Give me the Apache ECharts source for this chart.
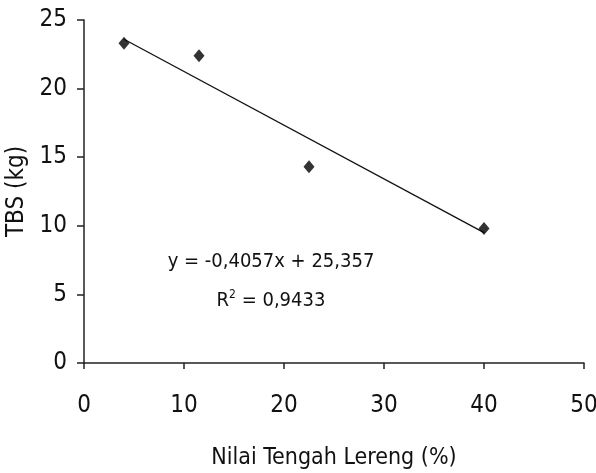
<!DOCTYPE html>
<html>
<head>
<meta charset="utf-8">
<script src="https://cdn.jsdelivr.net/npm/echarts@6/dist/echarts.min.js"></script>
<style>
html,body{margin:0;padding:0;background:#fff;}
#c{width:596px;height:473px;}
</style>
</head>
<body>
<div id="c"></div>
<script>
var slopeX = [4, 11.5, 22.5, 40];
var tbsY = [23.3, 22.4, 14.3, 9.8];
var trendX = [4, 40];
var trendY = [23.6, 9.5];
var xTicks = [0, 10, 20, 30, 40, 50];
var yTicks = [0, 5, 10, 15, 20, 25];
var xTitle = 'Nilai Tengah Lereng (%)';
var yTitle = 'TBS (kg)';
var eqText = 'y = -0,4057x + 25,357';
var r2Value = '0,9433';

var FONT = '"Liberation Sans Narrow", "DejaVu Sans Condensed", Lato, sans-serif';

var chart = echarts.init(document.getElementById('c'), null, {renderer: 'canvas'});

var pts = slopeX.map(function (x, i) { return [x, tbsY[i]]; });
var trend = trendX.map(function (x, i) { return [x, trendY[i]]; });

chart.setOption({
  animation: false,
  backgroundColor: '#fff',
  grid: {left: 84, right: 12, top: 20, bottom: 110, outerBoundsMode: 'none', containLabel: false},
  xAxis: {
    type: 'value', min: xTicks[0], max: xTicks[xTicks.length - 1], interval: 10,
    name: xTitle, nameLocation: 'middle', nameGap: 84,
    nameTextStyle: {fontFamily: FONT, fontSize: 23, color: '#111'},
    axisLine: {lineStyle: {color: '#222', width: 1.5}},
    axisTick: {show: true, length: 6, inside: false, lineStyle: {color: '#222', width: 1.5}},
    axisLabel: {margin: 31, fontFamily: FONT, fontSize: 24, color: '#111'},
    splitLine: {show: false}
  },
  yAxis: {
    type: 'value', min: yTicks[0], max: yTicks[yTicks.length - 1], interval: 5,
    name: yTitle, nameLocation: 'middle', nameGap: 50, nameRotate: 90,
    nameTextStyle: {fontFamily: FONT, fontSize: 24, color: '#111'},
    axisLine: {show: true, lineStyle: {color: '#222', width: 1.5}},
    axisTick: {show: true, length: 7, inside: false, lineStyle: {color: '#222', width: 1.5}},
    axisLabel: {margin: 17, fontFamily: FONT, fontSize: 24, color: '#111'},
    splitLine: {show: false}
  },
  series: [
    {
      type: 'line', data: trend, showSymbol: false, symbol: 'none',
      lineStyle: {color: '#111', width: 1.3}, z: 2
    },
    {
      type: 'scatter', data: pts, symbol: 'diamond', symbolSize: [11, 13],
      itemStyle: {color: '#000'}, z: 3
    }
  ]
});

var p1 = chart.convertToPixel({gridIndex: 0}, [18.7, 7.4]);
var p2 = chart.convertToPixel({gridIndex: 0}, [18.7, 4.5]);
chart.setOption({
  graphic: [
    {type: 'text', x: p1[0], y: p1[1], style: {text: eqText, fontFamily: FONT, fontSize: 20, fill: '#111', align: 'center', verticalAlign: 'middle'}},
    {type: 'text', x: p2[0], y: p2[1], style: {
      text: 'R{sup|2} = ' + r2Value,
      rich: {sup: {fontSize: 12, verticalAlign: 'top', padding: [0, 0, 12, 0], fontFamily: FONT, fill: '#111'}},
      fontFamily: FONT, fontSize: 20, fill: '#111', align: 'center', verticalAlign: 'middle'}}
  ]
});
</script>
</body>
</html>
